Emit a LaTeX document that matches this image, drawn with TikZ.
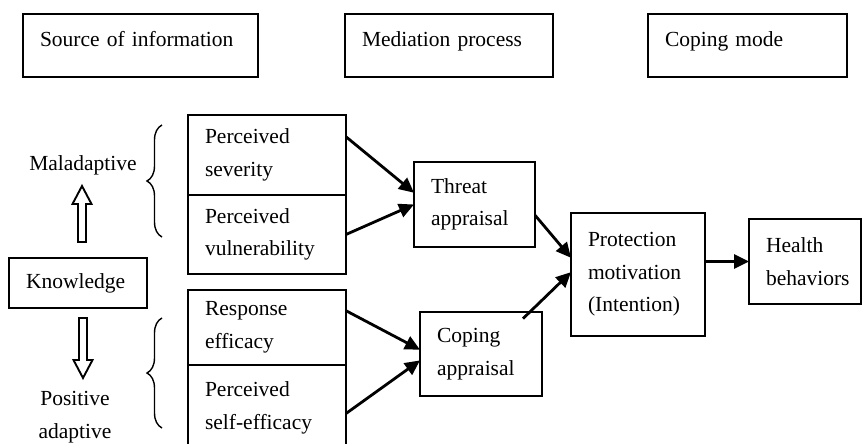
\documentclass[tikz,border=0pt]{standalone}
\usepackage{fontspec}
\setmainfont{Liberation Serif}
\usetikzlibrary{arrows.meta,decorations.pathreplacing}
\hyphenpenalty=10000
\tikzset{
  blk/.style={draw,line width=1.8pt,anchor=north west,align=left,inner xsep=17pt,inner ysep=4pt,outer sep=0pt,font=\fontsize{21.5}{32.5}\selectfont},
  head/.style={blk,text height=23pt,text depth=20pt,inner ysep=10pt},
  lnk/.style={-{Triangle[length=15pt,width=14pt]},line width=2.8pt},
  hollow/.style={line width=1.9pt,line join=miter},
  brc/.style={decorate,decoration={brace,amplitude=15pt},line width=1.4pt},
  lbl/.style={font=\fontsize{21.5}{32.5}\selectfont,align=center}
}
\begin{document}
\begin{tikzpicture}[x=1pt,y=-1pt]
  \useasboundingbox (0,0) rectangle (863,444);
  \fill[white] (0,0) rectangle (863,444);
  \clip (0,0) rectangle (863,444);
  % column heads
  \node[head,text width=201pt] (Src) at (23,14) {Source of information};
  \node[head,text width=174pt] (Med) at (345,14) {Mediation process};
  \node[head,text width=165pt] (Cop) at (648,14) {Coping mode};
  % source of information
  \node[blk,text width=104pt,minimum height=50pt] (Know) at (9,258) {Knowledge};
  \node[lbl,anchor=base] (Mal) at (83,170) {Maladaptive};
  \node[lbl] (Pos) at (75,417) {Positive\\adaptive};
  \coordinate (UpTip) at (82,186);
  \coordinate (DnTip) at (83,378);
  \draw[hollow] (UpTip) -- ++(9.5,18) -- ++(-5.5,0) -- ++(0,38) -- ++(-8,0) -- ++(0,-38) -- ++(-5.5,0) -- cycle;
  \draw[hollow] (DnTip) -- ++(9.5,-18) -- ++(-5.5,0) -- ++(0,-42) -- ++(-8,0) -- ++(0,42) -- ++(-5.5,0) -- cycle;
  \draw[brc] (162,237) -- (162,125);
  \draw[brc] (162,428) -- (162,318);
  % appraisal factors
  \node[blk,text width=124pt,minimum height=80pt] (Sev) at (188,115) {Perceived\\severity};
  \node[blk,text width=124pt,minimum height=79pt] (Vul) at (188,195) {Perceived\\vulnerability};
  \node[blk,text width=124pt,minimum height=75pt] (Resp) at (188,290) {Response\\efficacy};
  \node[blk,text width=124pt,minimum height=86pt] (Self) at (188,365) {Perceived\\self-efficacy};
  % mediation and coping
  \node[blk,text width=87pt,minimum height=85pt] (Thr) at (414,162) {Threat\\appraisal};
  \node[blk,text width=88pt,minimum height=84pt] (CApp) at (420,312) {Coping\\appraisal};
  \node[blk,text width=100pt,minimum height=123pt] (Prot) at (571,213) {Protection\\motivation\\(Intention)};
  \node[blk,text width=78pt,minimum height=85pt] (Hlth) at (749,219) {Health\\behaviors};
  % connectors
  \draw[lnk] (Sev.13) -- (Thr.169);
  \draw[lnk] (Vul.east) -- (Thr.west);
  \draw[lnk] (Resp.12) -- (CApp.176);
  \draw[lnk] (Self.-4) -- (CApp.186);
  \draw[lnk] (Thr.-10) -- (Prot.166);
  \draw[lnk] ([xshift=-19pt,yshift=-6.6pt]CApp.north east) -- (Prot.178);
  \draw[lnk] (Prot.east |- Hlth.west) -- (Hlth.west);
\end{tikzpicture}
\end{document}
